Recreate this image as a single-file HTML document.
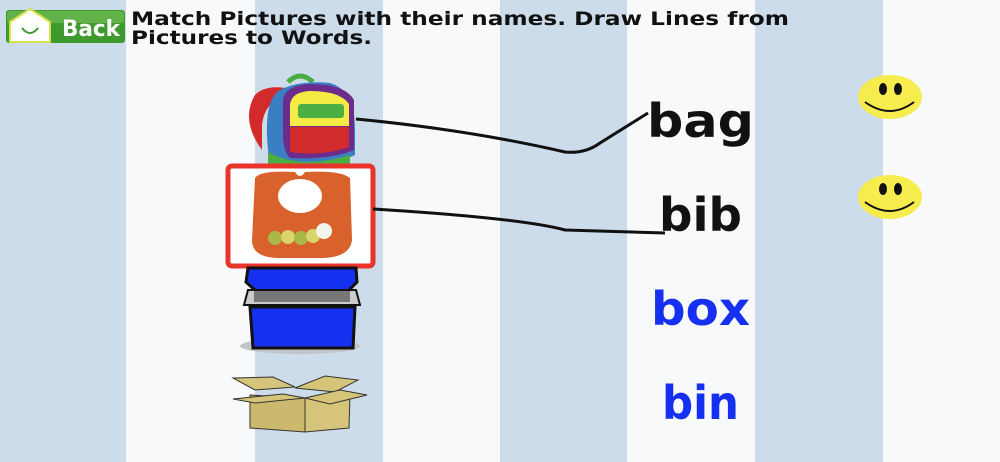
<!DOCTYPE html>
<html><head><meta charset="utf-8"><style>
html,body{margin:0;padding:0;width:1000px;height:462px;overflow:hidden;background:#f8f9fa}
svg{display:block}
text{font-family:"DejaVu Sans","Liberation Sans",sans-serif}
</style></head><body>
<svg width="1000" height="462" viewBox="0 0 1000 462" xmlns="http://www.w3.org/2000/svg">
<rect width="1000" height="462" fill="#f8f9fa"/>
<rect x="0" y="0" width="126" height="462" fill="#cddcea"/>
<rect x="255" y="0" width="128" height="462" fill="#cddcea"/>
<rect x="500" y="0" width="127" height="462" fill="#cddcea"/>
<rect x="755" y="0" width="128" height="462" fill="#cddcea"/>
<!-- back button -->
<rect x="6" y="10" width="119" height="33" rx="3" fill="#3f9a2e"/>
<rect x="7" y="11" width="117" height="12" rx="3" fill="#62b24a"/>
<path d="M10 22 L30 9 L50 22 L50 42 L10 42 Z" fill="#fff" stroke="#d8e04a" stroke-width="2"/>
<path d="M22 28 Q30 38 38 28" fill="none" stroke="#3f9a2e" stroke-width="2"/>
<text x="62" y="36" font-size="22" font-weight="bold" fill="#fff" font-family="Liberation Serif" textLength="58" lengthAdjust="spacingAndGlyphs">Back</text>
<!-- instructions -->
<text x="131" y="25" font-size="19" font-weight="bold" fill="#111" textLength="658" lengthAdjust="spacingAndGlyphs">Match Pictures with their names. Draw Lines from</text>
<text x="131" y="44" font-size="19" font-weight="bold" fill="#111" textLength="241" lengthAdjust="spacingAndGlyphs">Pictures to Words.</text>
<!-- backpack -->
<path d="M262 150 Q240 120 255 95 Q265 85 285 88 L285 100 Q265 100 262 125 Z" fill="#d32b2b"/>
<path d="M288 82 Q300 70 313 82" fill="none" stroke="#49ad44" stroke-width="5"/>
<path d="M268 150 Q263 100 280 90 Q300 80 330 83 Q355 90 355 130 L355 155 Q330 168 270 160 Z" fill="#3a7fc4"/>
<path d="M283 100 Q285 85 310 84 Q345 84 354 100 L354 150 Q330 160 290 158 Q282 150 283 130 Z" fill="#6b2c8c"/>
<path d="M290 104 Q292 92 310 91 Q340 91 349 104 L349 126 L290 126 Z" fill="#f4ec45"/>
<rect x="298" y="104" width="46" height="14" rx="3" fill="#4caf44"/>
<path d="M290 127 L349 127 L349 147 Q320 157 290 152 Z" fill="#d32b2b"/>
<path d="M268 152 Q300 170 350 155 L350 166 L268 166 Z" fill="#4caf44"/>
<!-- bib frame -->
<rect x="228" y="166" width="145" height="100" rx="4" fill="#fff" stroke="#e8342a" stroke-width="5"/>
<path d="M255 178 Q260 170 295 172 Q300 180 305 172 Q340 170 350 178 L352 240 Q350 258 320 258 L280 258 Q252 258 252 240 Z" fill="#d9612b"/>
<ellipse cx="300" cy="196" rx="22" ry="17" fill="#fff"/>
<circle cx="275" cy="238" r="7" fill="#a8b945"/><circle cx="288" cy="237" r="7" fill="#d9d56a"/><circle cx="301" cy="238" r="7" fill="#a8b945"/><circle cx="313" cy="236" r="7" fill="#d9d56a"/><circle cx="324" cy="231" r="8" fill="#f4f4ec"/>
<!-- bin -->
<path d="M248 268 L356 268 L357 282 L347 292 L257 292 L246 282 Z" fill="#1531ef" stroke="#111" stroke-width="3"/>
<path d="M248 290 L356 290 L360 305 L244 305 Z" fill="#ccc" stroke="#111" stroke-width="2"/>
<rect x="254" y="291" width="96" height="11" fill="#777"/>
<ellipse cx="300" cy="346" rx="60" ry="8" fill="#c0c4c8"/>
<path d="M250 307 L355 307 L353 348 L253 348 Z" fill="#1531ef" stroke="#111" stroke-width="3"/>
<!-- box -->
<path d="M250 395 L305 398 L305 432 L250 428 Z" fill="#cdb96e" stroke="#333" stroke-width="1"/>
<path d="M305 398 L350 394 L349 428 L305 432 Z" fill="#d6c47a" stroke="#333" stroke-width="1"/>
<path d="M233 378 L273 377 L295 387 L255 390 Z" fill="#d6c47a" stroke="#333" stroke-width="1"/>
<path d="M295 388 L325 376 L358 380 L335 392 Z" fill="#d6c47a" stroke="#333" stroke-width="1"/>
<path d="M233 399 L283 394 L305 398 L255 403 Z" fill="#d6c47a" stroke="#333" stroke-width="1"/>
<path d="M305 398 L340 390 L367 395 L330 404 Z" fill="#d6c47a" stroke="#333" stroke-width="1"/>
<!-- lines -->
<path d="M356 119 Q470 130 565 152 Q585 154 600 143 L648 113" fill="none" stroke="#111" stroke-width="3"/>
<path d="M373 209 Q520 218 565 230 L665 233" fill="none" stroke="#111" stroke-width="3"/>
<!-- words -->
<text x="647" y="137" font-size="46" font-weight="bold" fill="#111" textLength="107" lengthAdjust="spacingAndGlyphs">bag</text>
<text x="659" y="231" font-size="46" font-weight="bold" fill="#111" textLength="83" lengthAdjust="spacingAndGlyphs">bib</text>
<text x="651" y="325" font-size="46" font-weight="bold" fill="#1530f0" textLength="99" lengthAdjust="spacingAndGlyphs">box</text>
<text x="662" y="419" font-size="46" font-weight="bold" fill="#1530f0" textLength="77" lengthAdjust="spacingAndGlyphs">bin</text>
<!-- smileys -->
<g>
<ellipse cx="890" cy="97" rx="32" ry="22" fill="#f7ec4e"/>
<ellipse cx="883" cy="89" rx="4" ry="6" fill="#111"/><ellipse cx="898" cy="89" rx="4" ry="6" fill="#111"/>
<path d="M865 102 Q890 120 914 102" fill="none" stroke="#111" stroke-width="2"/>
</g>
<g>
<ellipse cx="890" cy="197" rx="32" ry="22" fill="#f7ec4e"/>
<ellipse cx="883" cy="189" rx="4" ry="6" fill="#111"/><ellipse cx="898" cy="189" rx="4" ry="6" fill="#111"/>
<path d="M865 202 Q890 220 914 202" fill="none" stroke="#111" stroke-width="2"/>
</g>
</svg>
</body></html>
